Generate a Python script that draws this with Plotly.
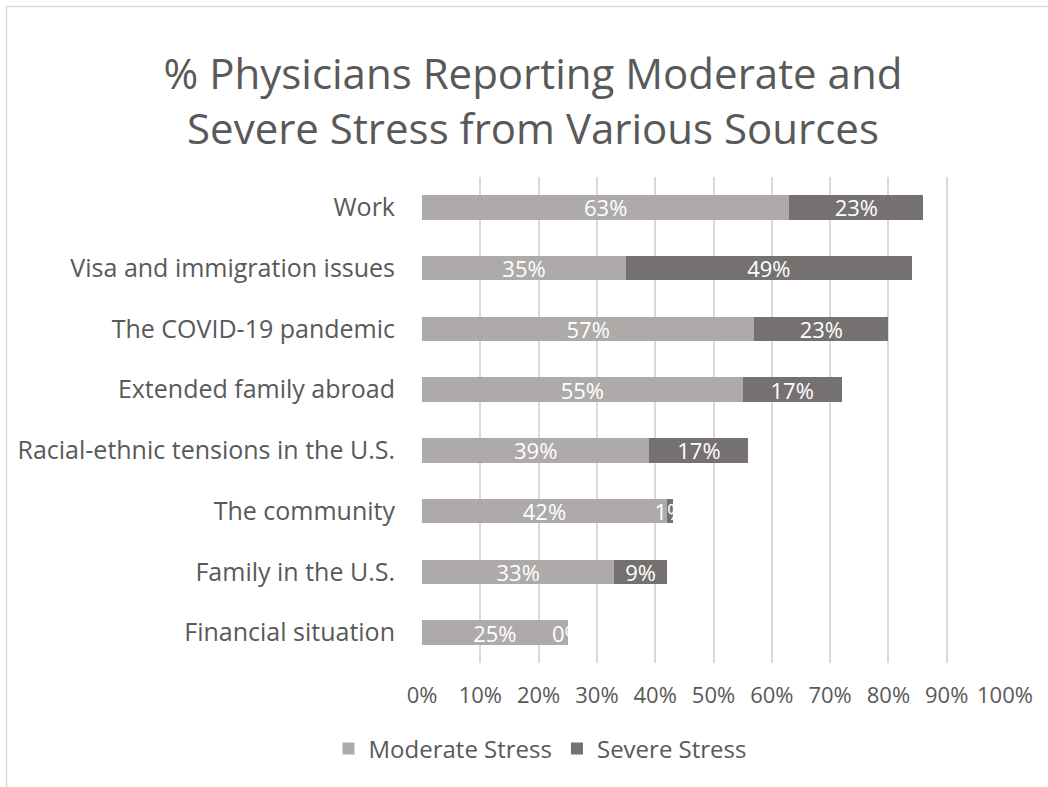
import plotly.graph_objects as go

categories = ["Work", "Visa and immigration issues", "The COVID-19 pandemic",
              "Extended family abroad", "Racial-ethnic tensions in the U.S.",
              "The community", "Family in the U.S.", "Financial situation"]
moderate = [63, 35, 57, 55, 39, 42, 33, 25]
severe = [23, 49, 23, 17, 17, 1, 9, 0]
x_ticks = [0, 10, 20, 30, 40, 50, 60, 70, 80, 90, 100]
x_tick_labels = [f"{v}%" for v in x_ticks]

FONT = "Open Sans, Calibri, sans-serif"
GRAY_TEXT = "#595959"
LABEL_SIZE = 22

W, H = 1048, 787
L, R, T, B = 422, 43, 177, 124
pw, ph = W - L - R, H - T - B


def px_to_paper_x(px):
    return (px - L) / pw


def px_to_paper_y(py):
    return (H - B - py) / ph


fig = go.Figure()
fig.add_trace(go.Bar(
    y=categories, x=moderate, orientation="h", name="Moderate Stress",
    marker=dict(color="#AEAAAA", line=dict(width=0)),
    text=[f"{v}%" for v in moderate], textposition="inside", textangle=0,
    insidetextanchor="middle", constraintext="none",
    textfont=dict(color="white", size=LABEL_SIZE, family=FONT),
    hoverinfo="skip",
))
fig.add_trace(go.Bar(
    y=categories, x=severe, orientation="h", name="Severe Stress",
    marker=dict(color="#767171", line=dict(width=0)),
    text=[f"{v}%" if v > 0 else "" for v in severe], textposition="inside",
    textangle=0, insidetextanchor="middle", constraintext="none",
    textfont=dict(color="white", size=LABEL_SIZE, family=FONT),
    hoverinfo="skip",
))

# labels of zero-width segments (drawn at the segment position, as Excel does)
for cat, m, s in zip(categories, moderate, severe):
    if s == 0:
        fig.add_annotation(x=m + s / 2, y=cat, xref="x", yref="y",
                           text=f"{s}%", showarrow=False, xanchor="center",
                           font=dict(color="white", size=LABEL_SIZE, family=FONT))

fig.update_layout(
    width=W, height=H,
    margin=dict(l=L, r=R, t=T, b=B, pad=0),
    barmode="stack", bargap=0.6,
    paper_bgcolor="white", plot_bgcolor="white",
    font=dict(family=FONT, color=GRAY_TEXT, size=22),
    uniformtext=dict(minsize=LABEL_SIZE, mode="show"),
    title=dict(
        text="% Physicians Reporting Moderate and<br>Severe Stress from Various Sources",
        x=533 / W, xanchor="center", xref="container",
        y=1 - 89 / H, yanchor="middle", yref="container",
        font=dict(size=42, color=GRAY_TEXT, family=FONT),
    ),
    xaxis=dict(
        range=[0, 100], tickvals=x_ticks, ticktext=x_tick_labels,
        showgrid=True, gridcolor="#D9D9D9", gridwidth=1.5,
        zeroline=False, showline=False, ticks="",
        ticklabelstandoff=17,
        tickfont=dict(size=22, color=GRAY_TEXT, family=FONT),
        fixedrange=True,
    ),
    yaxis=dict(
        autorange="reversed", showgrid=False, zeroline=False, showline=False,
        ticks="", ticklabelstandoff=26,
        tickfont=dict(size=25, color=GRAY_TEXT, family=FONT),
        fixedrange=True,
    ),
    legend=dict(
        orientation="h", x=px_to_paper_x(540), xanchor="center",
        y=px_to_paper_y(749), yanchor="middle",
        font=dict(size=24, color=GRAY_TEXT, family=FONT),
        traceorder="normal",
    ),
    showlegend=True,
)

# chart-area border (top and left edges visible in the reference)
fig.add_shape(type="line", xref="paper", yref="paper",
              x0=px_to_paper_x(6.5), x1=px_to_paper_x(1060),
              y0=px_to_paper_y(6.5), y1=px_to_paper_y(6.5),
              line=dict(color="#D9D9D9", width=1.5), layer="below")
fig.add_shape(type="line", xref="paper", yref="paper",
              x0=px_to_paper_x(6.5), x1=px_to_paper_x(6.5),
              y0=px_to_paper_y(6.5), y1=px_to_paper_y(800),
              line=dict(color="#D9D9D9", width=1.5), layer="below")

fig.write_html(
    "out.html",
    config={"displayModeBar": False},
    post_script="document.body.style.margin='0';document.body.style.overflow='hidden';",
)
